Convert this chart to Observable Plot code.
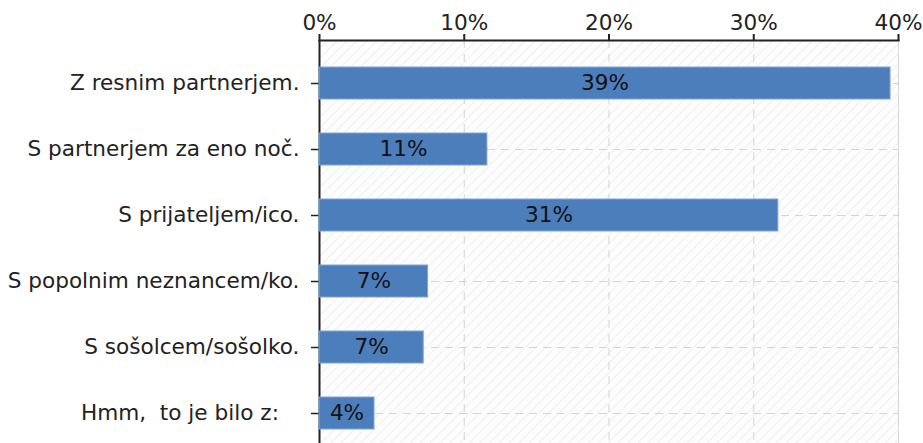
<!DOCTYPE html>
<html>
<head>
<meta charset="utf-8">
<script src="https://cdn.jsdelivr.net/npm/d3@7"></script>
<script src="https://cdn.jsdelivr.net/npm/@observablehq/plot@0.6"></script>
<style>
  html, body { margin: 0; padding: 0; background: #fff; overflow: hidden; }
  svg text { white-space: pre; }
</style>
</head>
<body>
<div id="chart"></div>
<script>
const categories = [
  "Z resnim partnerjem.",
  "S partnerjem za eno noč.",
  "S prijateljem/ico.",
  "S popolnim neznancem/ko.",
  "S sošolcem/sošolko.",
  "Hmm,  to je bilo z:   "
];
const values = [39.45, 11.6, 31.7, 7.5, 7.2, 3.8];
const valueLabels = ["39%", "11%", "31%", "7%", "7%", "4%"];
const xTicks = [0, 10, 20, 30, 40];

const data = categories.map((c, i) => ({category: c, value: values[i], label: valueLabels[i]}));

const hatch = () => {
  const ns = "http://www.w3.org/2000/svg";
  const defs = document.createElementNS(ns, "defs");
  const p = document.createElementNS(ns, "pattern");
  p.setAttribute("id", "hatch");
  p.setAttribute("patternUnits", "userSpaceOnUse");
  p.setAttribute("width", "7");
  p.setAttribute("height", "7");
  p.setAttribute("patternTransform", "rotate(45)");
  const bg = document.createElementNS(ns, "rect");
  bg.setAttribute("width", "7"); bg.setAttribute("height", "7"); bg.setAttribute("fill", "#fdfdfd");
  const l = document.createElementNS(ns, "line");
  l.setAttribute("x1", "0"); l.setAttribute("y1", "0"); l.setAttribute("x2", "0"); l.setAttribute("y2", "7");
  l.setAttribute("stroke", "#e8e8e8"); l.setAttribute("stroke-width", "1.3");
  p.appendChild(bg); p.appendChild(l); defs.appendChild(p);
  return defs;
};

const chart = Plot.plot({
  width: 923,
  height: 443,
  marginTop: 40,
  marginLeft: 319,
  marginRight: 25,
  marginBottom: 0,
  style: {fontFamily: "DejaVu Sans", fontSize: "21.6px", color: "#222", background: "#fff"},
  x: {domain: [0, 40], label: null},
  y: {domain: categories, range: [40, 456], paddingInner: 0.52, paddingOuter: 0.39, label: null},
  marks: [
    hatch,
    Plot.frame({fill: "url(#hatch)", stroke: "#dcdcdc"}),
    Plot.gridX({ticks: xTicks.slice(1), stroke: "#d4d4d4", strokeOpacity: 1, strokeDasharray: "8,6"}),
    Plot.gridY({stroke: "#d4d4d4", strokeOpacity: 1, strokeDasharray: "8,6"}),
    Plot.axisX({anchor: "top", ticks: xTicks, tickFormat: d => d + "%", tickSize: 7, tickPadding: 4, stroke: "#222", strokeWidth: 2, fill: "#222", label: null}),
    Plot.axisY({anchor: "left", tickSize: 8, tickPadding: 12, stroke: "#222", strokeWidth: 1.5, fill: "#222", label: null}),
    Plot.frame({anchor: "top", stroke: "#222", strokeWidth: 2}),
    Plot.ruleX([0], {stroke: "#222", strokeWidth: 2}),
    Plot.barX(data, {x: "value", y: "category", fill: "#4d7ebc", stroke: "#7fa5d6", strokeWidth: 1}),
    Plot.text(data, {x: d => d.value / 2, y: "category", text: "label", fill: "#111", fontSize: 21.6})
  ]
});
document.getElementById("chart").appendChild(chart);
</script>
</body>
</html>
